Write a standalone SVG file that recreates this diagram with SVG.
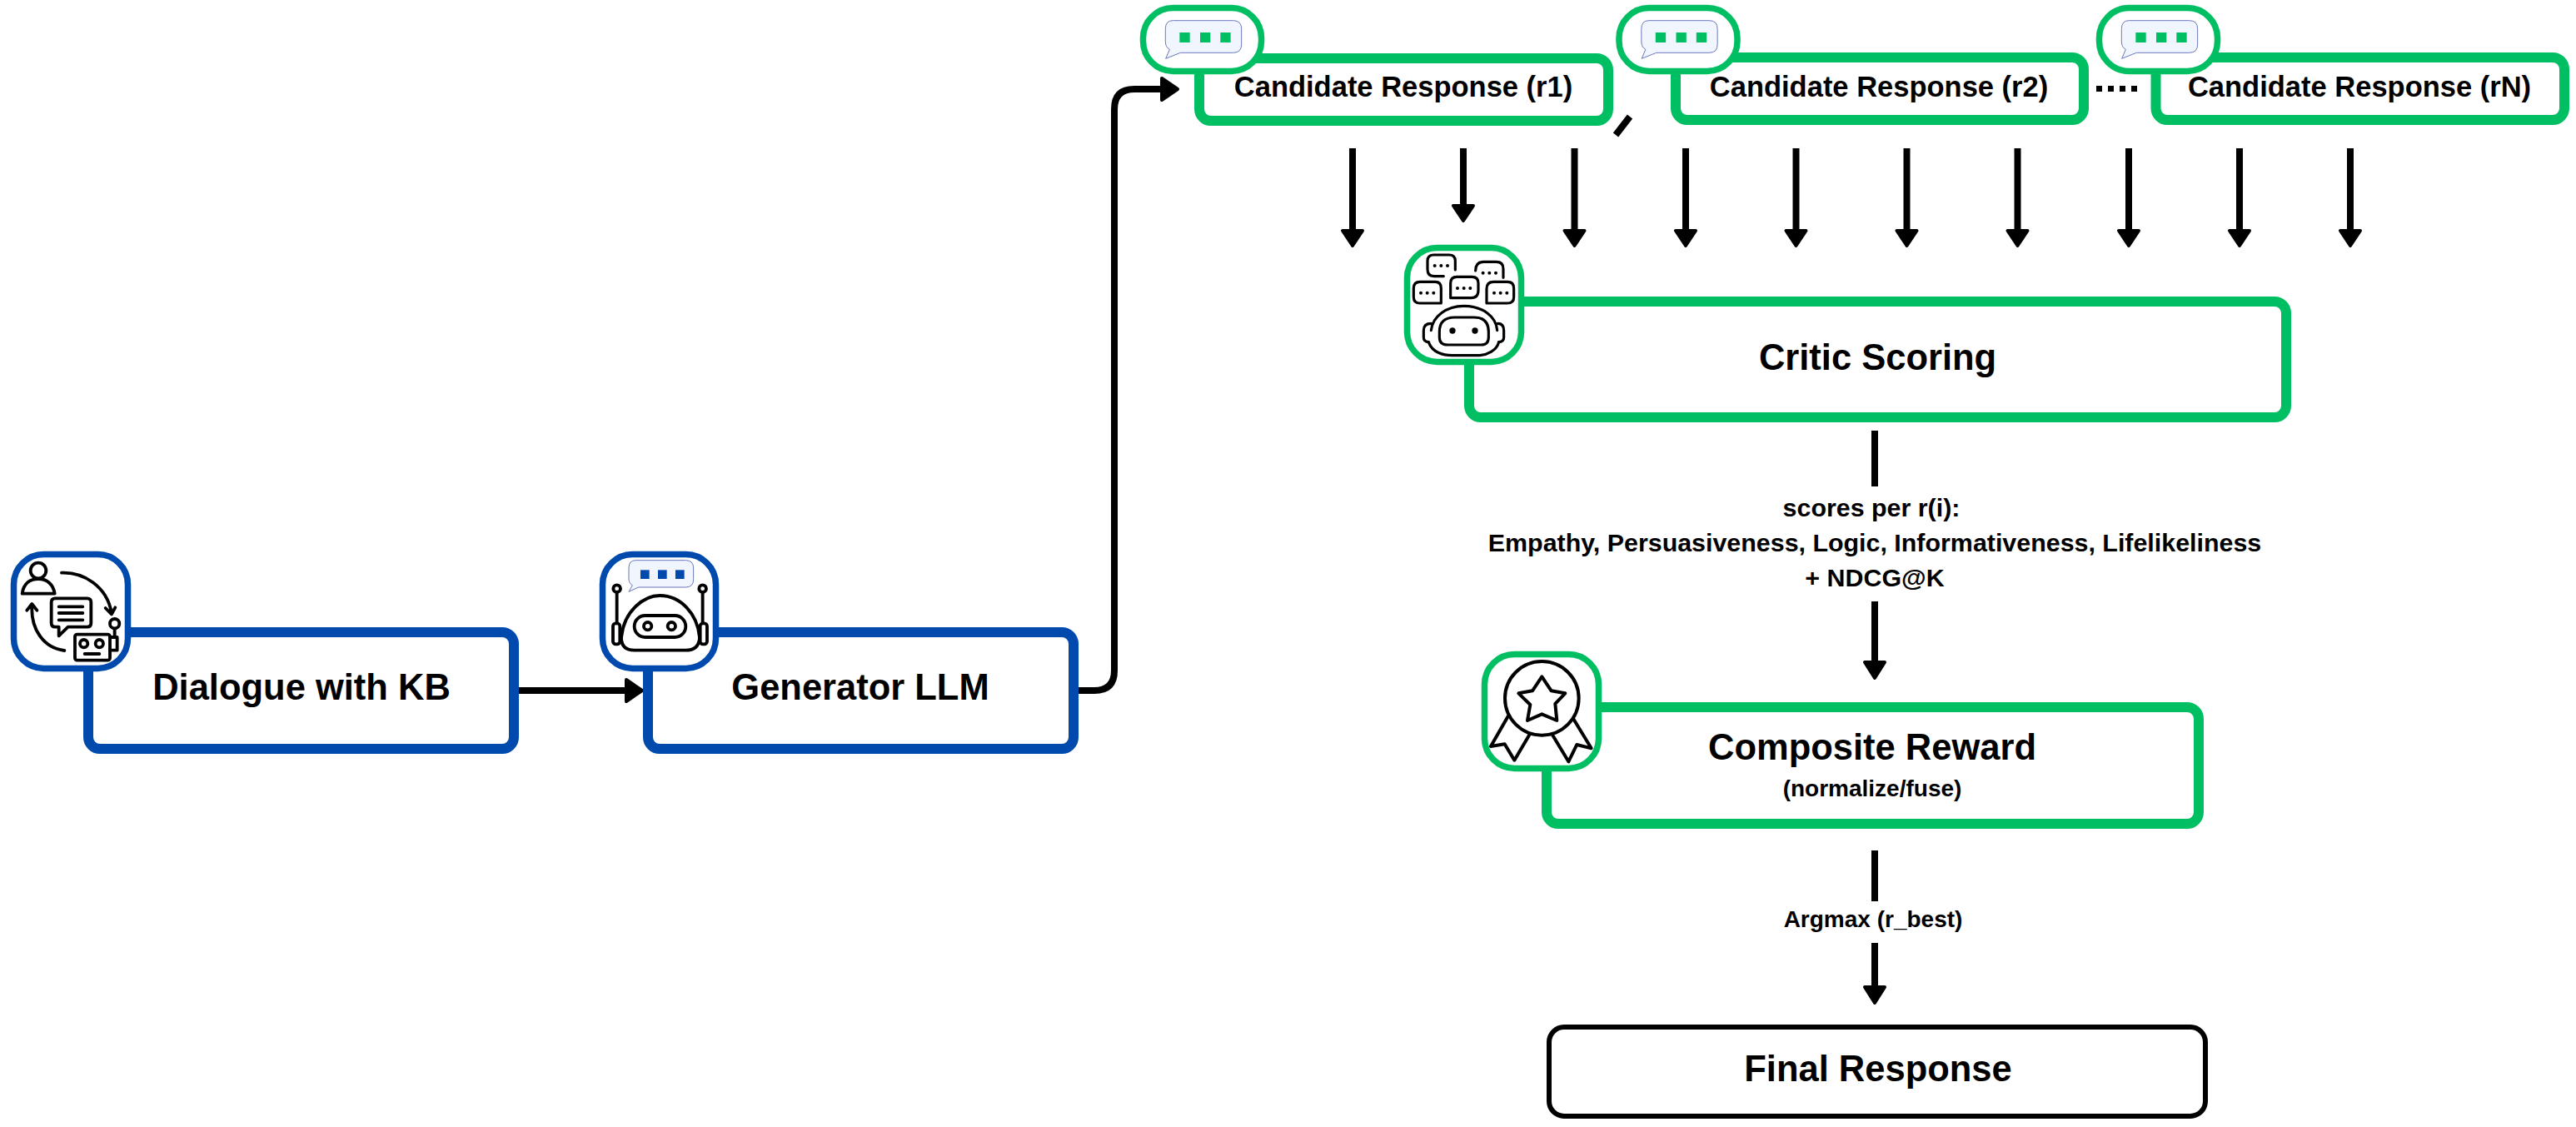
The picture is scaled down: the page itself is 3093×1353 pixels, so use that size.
<svg xmlns="http://www.w3.org/2000/svg" width="3093" height="1353" viewBox="0 0 3093 1353">
<style>
text{font-family:"Liberation Sans",Arial,sans-serif;font-weight:700;fill:#000;text-anchor:middle}
.t43{font-size:43.5px}.t34{font-size:34.5px}.t30{font-size:30.4px}.t28{font-size:28px}
.blue{fill:#fff;stroke:#004aad;stroke-width:12}
.green{fill:#fff;stroke:#00bf63;stroke-width:12}
.ib{fill:#fff;stroke:#004aad;stroke-width:7.5}
.ig{fill:#fff;stroke:#00bf63;stroke-width:7.5}
.line{fill:none;stroke:#000;stroke-width:8}
.head{fill:#000;stroke:#000;stroke-width:4;stroke-linejoin:round}
.ic{fill:none;stroke:#000;stroke-linecap:round;stroke-linejoin:round}
.bub{fill:#f1f5fe;stroke:#6a76bd;stroke-width:3;stroke-linejoin:round}
.sg{fill:#00bf63}.sb{fill:#004aad}
</style>
<defs>
<g id="bubbleg">
<path class="bub" d="M145,74H362Q392,74 392,104V160Q392,190 362,190H172L119,211L133,178Q118,170 118,150V104Q118,74 145,74Z"/>
<rect class="sg" x="169" y="117" width="37" height="36"/><rect class="sg" x="243" y="117" width="37" height="36"/><rect class="sg" x="316" y="117" width="37" height="36"/>
</g>
</defs>
<g id="connectors">
<path class="line" d="M623,829H754"/><path class="head" d="M752,816L771,829L752,842Z"/>
<path class="line" d="M1295,829H1314Q1338,829 1338,805V131Q1338,107 1362,107H1396"/><path class="head" d="M1395,94L1414,107L1395,120Z"/>
<g id="fan">
<path class="line" d="M1624,178V278"/><path class="head" d="M1612,277H1636L1624,295Z"/>
<path class="line" d="M1757,178V248"/><path class="head" d="M1745,247H1769L1757,265Z"/>
<path class="line" d="M1890.500,178V278"/><path class="head" d="M1878.500,277H1902.500L1890.500,295Z"/>
<path class="line" d="M2024,178V278"/><path class="head" d="M2012,277H2036L2024,295Z"/>
<path class="line" d="M2156.500,178V278"/><path class="head" d="M2144.500,277H2168.500L2156.500,295Z"/>
<path class="line" d="M2289.500,178V278"/><path class="head" d="M2277.500,277H2301.500L2289.500,295Z"/>
<path class="line" d="M2422.500,178V278"/><path class="head" d="M2410.500,277H2434.500L2422.500,295Z"/>
<path class="line" d="M2556,178V278"/><path class="head" d="M2544,277H2568L2556,295Z"/>
<path class="line" d="M2689,178V278"/><path class="head" d="M2677,277H2701L2689,295Z"/>
<path class="line" d="M2822,178V278"/><path class="head" d="M2810,277H2834L2822,295Z"/>
</g>
<path class="line" d="M2251,517V584"/>
<path class="line" d="M2251,722V797"/><path class="head" d="M2239,795H2263L2251,814Z"/>
<path class="line" d="M2251,1021V1082"/>
<path class="line" d="M2251,1132V1187"/><path class="head" d="M2239,1185H2263L2251,1204Z"/>
<path d="M1957,140L1940,162" fill="none" stroke="#000" stroke-width="8"/>
<path d="M2517,106.500H2566" fill="none" stroke="#000" stroke-width="7" stroke-dasharray="7 7"/>
</g>
<g id="dialogue">
<rect class="blue" x="106" y="759" width="511" height="140" rx="14"/>
<rect class="ib" x="16.500" y="665.500" width="137" height="137" rx="36"/>
<g class="ic" transform="translate(0,650) scale(.3333)" stroke-width="11.500">
<circle cx="138" cy="105" r="28"/>
<path d="M80,188C85,150 110,135 138,135C170,135 192,155 197,188Z"/>
<path d="M222,113C300,110 385,160 402,258M380,240L402,262L415,238"/>
<path d="M232,393C160,385 110,320 115,228M97,248L115,225L133,248"/>
<path d="M199,205H314Q328,205 328,219V294Q328,308 314,308H245L212,340V308H199Q185,308 185,294V219Q185,205 199,205Z"/>
<path d="M212,235H298M212,258H298M212,283H298"/>
<rect x="270" y="335" width="126" height="93" rx="8"/>
<circle cx="302" cy="368" r="14"/><circle cx="358" cy="368" r="14"/>
<path d="M305,405H358M396,345H422V392H396M413,345V315"/>
<circle cx="413" cy="296" r="17"/>
</g>
<text class="t43" x="362" y="840">Dialogue with KB</text>
</g>
<g id="generator">
<rect class="blue" x="778" y="759" width="511" height="140" rx="14"/>
<rect class="ib" x="723.500" y="665.500" width="136" height="137" rx="36"/>
<g transform="translate(710,650) scale(.3333)">
<path class="bub" d="M160,68H340Q368,68 368,96V137Q368,165 340,165H170L135,181L148,158Q135,150 135,135V96Q135,68 160,68Z"/>
<rect class="sb" x="177" y="103" width="32" height="32"/><rect class="sb" x="240" y="103" width="32" height="32"/><rect class="sb" x="303" y="103" width="32" height="32"/>
<g class="ic" stroke-width="11.500">
<path d="M108,350C115,250 190,195 247,195C320,195 385,260 390,350Q385,392 340,392H155Q110,392 108,350Z"/>
<rect x="155" y="267" width="185" height="78" rx="39"/>
<circle cx="203" cy="305" r="14"/><circle cx="289" cy="305" r="14"/>
<rect x="78" y="295" width="25" height="75" rx="10"/><rect x="392" y="295" width="25" height="75" rx="10"/>
<path d="M92,183V295M401,183V295"/>
<circle cx="92" cy="170" r="13"/><circle cx="401" cy="170" r="13"/>
</g>
</g>
<text class="t43" x="1033" y="840">Generator LLM</text>
</g>
<g id="candidate1">
<rect class="green" x="1440" y="70" width="491" height="75" rx="14"/>
<rect class="ig" x="1372.500" y="9.500" width="142" height="76" rx="36"/>
<use href="#bubbleg" transform="translate(1360,0) scale(.3333)"/>
<text class="t34" x="1685" y="116">Candidate Response (r1)</text>
</g>
<g id="candidate2">
<rect class="green" x="2012" y="69" width="490" height="75" rx="14"/>
<rect class="ig" x="1944" y="9.500" width="142" height="76" rx="36"/>
<use href="#bubbleg" transform="translate(1931.500,0) scale(.3333)"/>
<text class="t34" x="2256" y="116">Candidate Response (r2)</text>
</g>
<g id="candidateN">
<rect class="green" x="2588.500" y="69" width="490.500" height="75" rx="14"/>
<rect class="ig" x="2520.500" y="9.500" width="142" height="76" rx="36"/>
<use href="#bubbleg" transform="translate(2508,0) scale(.3333)"/>
<text class="t34" x="2833" y="116">Candidate Response (rN)</text>
</g>
<g id="critic">
<rect class="green" x="1764" y="362" width="981" height="139" rx="14"/>
<rect class="ig" x="1689.500" y="297.500" width="137" height="137" rx="36"/>
<g class="ic" transform="translate(1670,280) scale(.3333)" stroke-width="9.500">
<path d="M232,132V100Q232,78 210,78H155Q132,78 132,100V130Q132,155 155,155H190"/>
<path d="M305,135Q305,103 335,103H380Q405,103 405,128V160"/>
<path d="M181,252H105Q82,252 82,230V198Q82,175 105,175H160Q181,175 181,198V252Z"/>
<path d="M215,233V180Q215,157 238,157H292Q315,157 315,180V205Q315,233 290,233Z"/>
<path d="M345,252V200Q345,175 370,175H420Q443,175 443,198V230Q443,252 420,252Z"/>
<path d="M145,350C150,300 200,262 263,262C330,262 380,300 383,350"/>
<path d="M137,395C150,430 190,440 220,440H310C350,440 380,420 388,395"/>
<path d="M145,325Q118,325 118,350V375Q118,392 137,392M385,325Q407,325 407,350V375Q407,392 388,392"/>
<path d="M175,375V355Q175,303 230,303H300Q352,303 352,355V375Q352,402 325,402H205Q175,402 175,375Z"/>
<g fill="#000" stroke="none">
<circle cx="158" cy="117" r="6"/><circle cx="181" cy="117" r="6"/><circle cx="204" cy="117" r="6"/>
<circle cx="332" cy="143" r="6"/><circle cx="355" cy="143" r="6"/><circle cx="378" cy="143" r="6"/>
<circle cx="108" cy="215" r="6"/><circle cx="131" cy="215" r="6"/><circle cx="154" cy="215" r="6"/>
<circle cx="240" cy="198" r="6"/><circle cx="263" cy="198" r="6"/><circle cx="286" cy="198" r="6"/>
<circle cx="372" cy="215" r="6"/><circle cx="395" cy="215" r="6"/><circle cx="418" cy="215" r="6"/>
<circle cx="222" cy="351" r="11"/><circle cx="303" cy="351" r="11"/>
</g>
</g>
<text class="t43" x="2254.500" y="444">Critic Scoring</text>
</g>
<g id="composite">
<rect class="green" x="1857" y="849" width="783" height="140" rx="14"/>
<rect class="ig" x="1782.500" y="785.500" width="137" height="137" rx="36"/>
<g class="ic" transform="translate(1760,770) scale(.3333)" stroke-width="12">
<circle cx="274" cy="205" r="133"/>
<path d="M274,127L308,178L358,187L322,225L328,285L274,262L222,285L232,228L190,187L240,178Z"/>
<path d="M152,270L90,378L140,370L175,428L228,338"/>
<path d="M388,280L452,385L400,372L370,433L313,338"/>
</g>
<text class="t43" x="2248" y="912">Composite Reward</text>
<text class="t28" x="2248" y="956">(normalize/fuse)</text>
</g>
<g id="final">
<rect x="1860" y="1233" width="788" height="107" rx="18" fill="#fff" stroke="#000" stroke-width="6"/>
<text class="t43" x="2255" y="1298">Final Response</text>
</g>
<g id="labels">
<text class="t30" x="2247" y="620">scores per r(i):</text>
<text class="t30" x="2251" y="662">Empathy, Persuasiveness, Logic, Informativeness, Lifelikeliness</text>
<text class="t30" x="2251" y="704">+ NDCG@K</text>
<text class="t28" x="2249" y="1113">Argmax (r_best)</text>
</g>
</svg>
